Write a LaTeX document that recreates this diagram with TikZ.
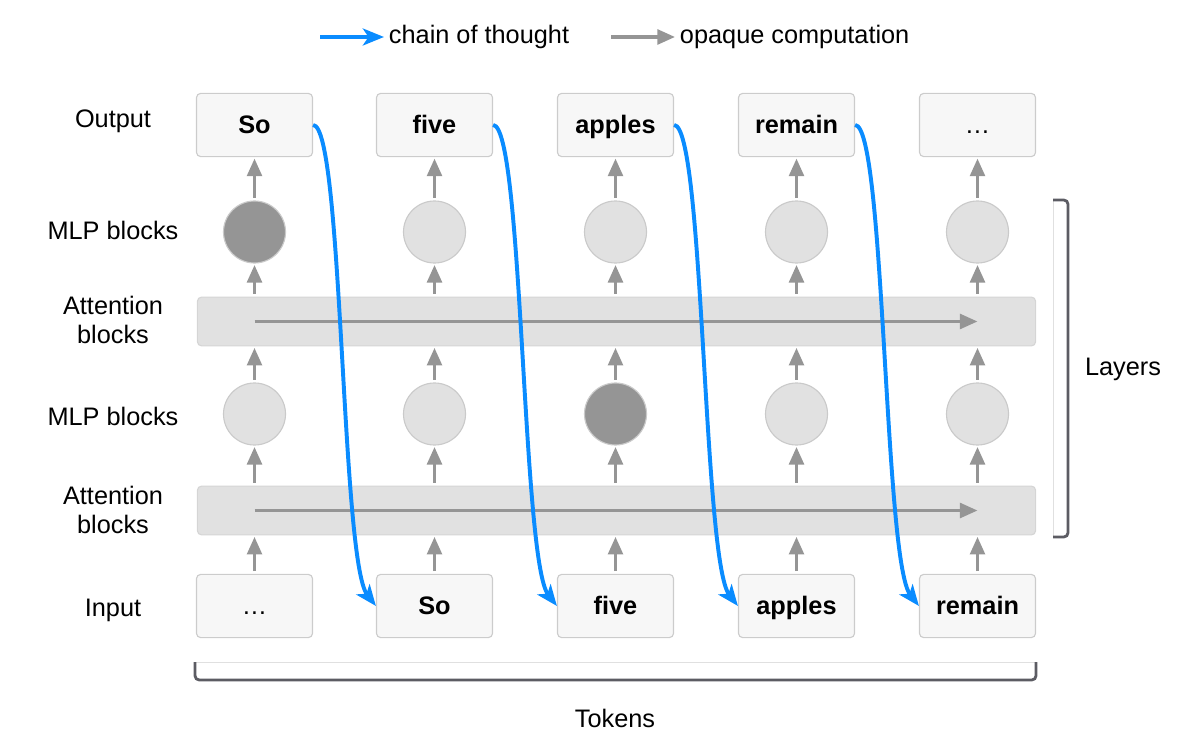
\documentclass[tikz,border=0pt]{standalone}
\usepackage{fontspec}
\setmainfont{Liberation Sans}
\usepackage{tikz}
\usetikzlibrary{arrows.meta, positioning}
\definecolor{cotblue}{HTML}{0A8CFF}
\definecolor{opqgray}{HTML}{959595}
\definecolor{boxfill}{HTML}{F7F7F7}
\definecolor{boxline}{HTML}{CCCCCC}
\definecolor{blockfill}{HTML}{E1E1E1}
\definecolor{blockline}{HTML}{CACACA}
\definecolor{hotfill}{HTML}{959595}
\definecolor{brace}{HTML}{5C5C63}
\tikzstyle{token} = [rectangle, rounded corners=3pt, minimum width=2.9cm, minimum height=1.58cm, text height=14pt, text depth=1.5pt, draw=boxline, fill=boxfill, line width=0.8pt, font=\bfseries\fontsize{18}{22}\selectfont]
\tikzstyle{mlp} = [circle, minimum size=1.55cm, draw=blockline, fill=blockfill, line width=0.8pt]
\tikzstyle{hot} = [mlp, fill=hotfill]
\tikzstyle{attn} = [rectangle, rounded corners=3pt, minimum width=20.95cm, minimum height=1.22cm, draw=blockline!80, fill=blockfill, line width=0.8pt]
\tikzstyle{lbl} = [align=center, font=\fontsize{18}{20}\selectfont]
\tikzstyle{opq} = [line width=2.3pt, draw=opqgray, -{Triangle[length=12.5pt, width=10.5pt]}]
\tikzstyle{cot} = [line width=2.8pt, draw=cotblue, -{Stealth[length=15pt, width=12pt, inset=4pt]}]
\tikzstyle{bracket} = [line width=2pt, draw=brace, rounded corners=3pt]

\begin{document}
\begin{tikzpicture}[x=0.025cm, y=-0.025cm]
    \useasboundingbox (0,0) rectangle (1200,753);
    % legend
    \coordinate (la) at (320,37);
    \node (lc) [lbl, anchor=west] at (384,37) {chain of thought};
    \coordinate (lb) at (611,37);
    \node (lo) [lbl, anchor=west] at (675,37) {opaque computation};
    \draw [cot] (la) -- (lc.west);
    \draw [opq] (lb) -- (lo.west);
    % rows
    \node (o1) [token] at (254.5,125) {So};
    \node (o2) [token] at (434.5,125) {five};
    \node (o3) [token] at (615.5,125) {apples};
    \node (o4) [token] at (796.5,125) {remain};
    \node (o5) [token] at (977.5,125) {\mdseries\ldots};
    \node (m21) [hot] at (254.5,232) {};
    \node (m22) [mlp] at (434.5,232) {};
    \node (m23) [mlp] at (615.5,232) {};
    \node (m24) [mlp] at (796.5,232) {};
    \node (m25) [mlp] at (977.5,232) {};
    \node (b2) [attn] at (616.5,321.5) {};
    \node (m11) [mlp] at (254.5,414) {};
    \node (m12) [mlp] at (434.5,414) {};
    \node (m13) [hot] at (615.5,414) {};
    \node (m14) [mlp] at (796.5,414) {};
    \node (m15) [mlp] at (977.5,414) {};
    \node (b1) [attn] at (616.5,510.5) {};
    \node (i1) [token] at (254.5,606) {\mdseries\ldots};
    \node (i2) [token] at (434.5,606) {So};
    \node (i3) [token] at (615.5,606) {five};
    \node (i4) [token] at (796.5,606) {apples};
    \node (i5) [token] at (977.5,606) {remain};
    % row labels
    \node (t1) [lbl] at (113,121) {Output};
    \node (t2) [lbl] at (113,230) {MLP blocks};
    \node (t3) [lbl] at (113,320) {Attention\\blocks};
    \node (t4) [lbl] at (113,416) {MLP blocks};
    \node (t5) [lbl] at (113,510) {Attention\\blocks};
    \node (t6) [lbl] at (113,610) {Input};
    \node (t7) [lbl] at (1123,369) {Layers};
    \node (t8) [lbl] at (615,718) {Tokens};
    % opaque computation
    \foreach \c in {1,...,5} {
        \draw [opq, shorten <=2pt, shorten >=1pt] (i\c.north) -- (i\c.north |- b1.south);
        \draw [opq, shorten <=2pt, shorten >=1pt] (b1.north -| m1\c) -- (m1\c.south);
        \draw [opq, shorten <=2pt, shorten >=1pt] (m1\c.north) -- (m1\c.north |- b2.south);
        \draw [opq, shorten <=2pt, shorten >=1pt] (b2.north -| m2\c) -- (m2\c.south);
        \draw [opq, shorten <=2pt, shorten >=1pt] (m2\c.north) -- (o\c.south);
    }
    \draw [opq] (b1 -| i1) -- (b1 -| i5);
    \draw [opq] (b2 -| o1) -- (o5 |- b2);
    % chain of thought
    \draw [cot] (o1.east) .. controls +(30,0) and +(-35,-45) .. (i2.west);
    \draw [cot] (o2.east) .. controls +(30,0) and +(-35,-45) .. (i3.west);
    \draw [cot] (o3.east) .. controls +(30,0) and +(-35,-45) .. (i4.west);
    \draw [cot] (o4.east) .. controls +(30,0) and +(-35,-45) .. (i5.west);
    % brackets
    \draw [boxline!60, line width=0.6pt] (1053,200) -- (1053,537);
    \draw [bracket] (1053,200) -- (1068,200) -- (1068,537) -- (1053,537);
    \draw [boxline!60, line width=0.6pt] (195,662) -- (1036,662);
    \draw [bracket] (195,662) -- (195,680) -- (1036,680) -- (1036,662);
\end{tikzpicture}
\end{document}
